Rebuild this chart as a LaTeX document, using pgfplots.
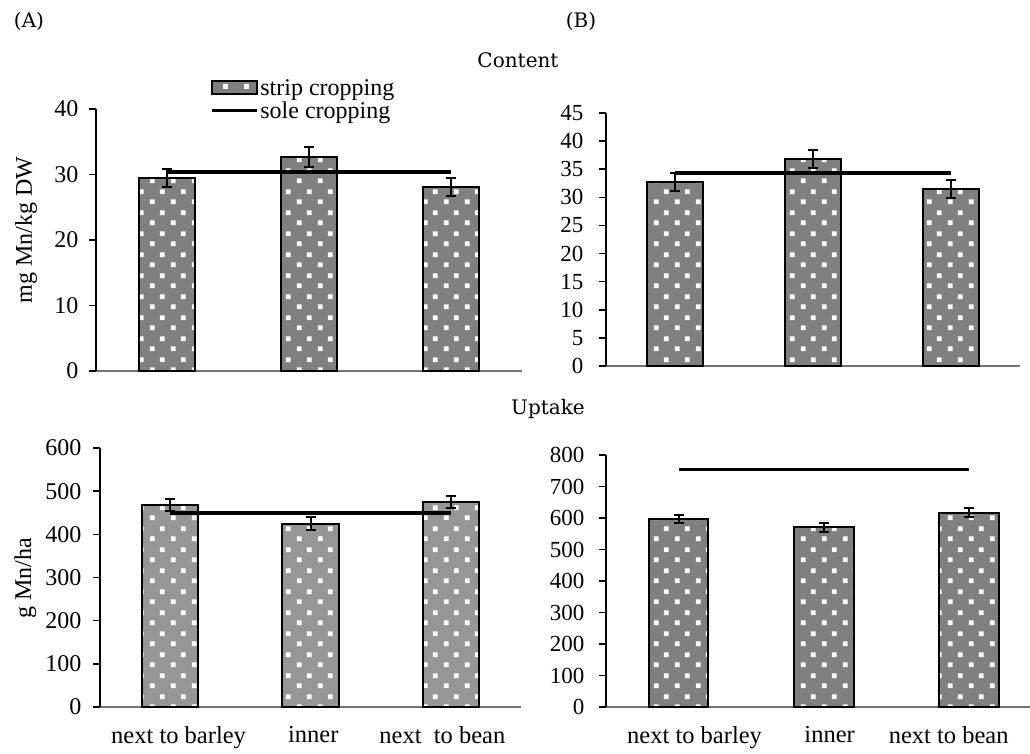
\documentclass[border=0pt]{standalone}
\usepackage{fontspec}
\setmainfont{Liberation Serif}
\newfontfamily\titlefont{DejaVu Serif}
\usepackage{pgfplots}
\pgfplotsset{compat=1.18}
\usetikzlibrary{patterns}
\definecolor{barfill}{RGB}{128,128,128}
\definecolor{barfilllight}{RGB}{150,150,150}
\pgfdeclarepatternformonly{whitesq}{\pgfpointorigin}{\pgfpoint{21pt}{21pt}}{\pgfpoint{21pt}{21pt}}{%
  \pgfpathrectangle{\pgfpoint{3pt}{3pt}}{\pgfpoint{5pt}{5pt}}%
  \pgfpathrectangle{\pgfpoint{13.5pt}{13.5pt}}{\pgfpoint{5pt}{5pt}}%
  \pgfusepath{fill}}
\pgfplotsset{
  panel/.style={scale only axis, anchor=south west, xmin=-0.5, xmax=2.5, ymin=0,
    axis x line*=bottom, axis y line*=left,
    x axis line style={draw=black!55, line width=1.3pt},
    y axis line style={line width=1.5pt},
    ytick pos=left, tick align=outside, major tick length=7pt,
    major y tick style={line width=1.5pt, black},
    xtick=\empty,
    /pgf/number format/assume math mode=true,
    yticklabel style={font=\fontsize{24}{26}\selectfont},
    clip=false},
  ylab/.style 2 args={every axis y label/.style={at={(axis description cs:#1,#2)},
    rotate=90, anchor=center, font=\fontsize{24}{26}\selectfont}},
  bottompanel/.style={
    xticklabel style={font=\fontsize{24.5}{27}\selectfont, yshift=-9pt},
    major x tick style={draw=none}},
  stripbar/.style={ybar, bar width=0.4, draw=black, line width=2pt,
    preaction={fill=barfill}, pattern=whitesq, pattern color=white,
    error bars/y dir=both, error bars/y explicit,
    error bars/error bar style={line width=2pt, black},
    error bars/error mark options={rotate=90, mark size=5pt, line width=2pt, black}},
  soleline/.style={black, line width=3.5pt, no marks},
  stripleg/.style={legend image code/.code={\draw[##1] (0pt,-6pt) rectangle (45pt,7pt);}},
  soleleg/.style={legend image code/.code={\draw[##1] (0pt,0pt) -- (45pt,0pt);}},
}
\begin{document}
\begin{tikzpicture}
\path[use as bounding box] (0pt,0pt) rectangle (1030pt,753pt);

% (A) content
\begin{axis}[panel, at={(96pt,382pt)}, width=426pt, height=262pt,
  ymax=40, ytick={0,10,20,30,40}, ylabel={mg Mn/kg DW}, ylab={-0.164}{0.538},
  yticklabel style={xshift=-7pt},
  legend style={at={(0.268,1.12)}, anchor=north west, draw=none, fill=none,
    font=\fontsize{24}{26}\selectfont, inner sep=0pt, row sep=2pt,
    nodes={inner sep=1.5pt}},
  legend cell align=left]
\addplot[stripbar, stripleg]
  coordinates {(0,29.5) +- (0,1.4) (1,32.7) +- (0,1.5) (2,28.1) +- (0,1.4)};
\addlegendentry{strip cropping}
\addplot[soleline, soleleg]
  coordinates {(0,30.4) (2,30.4)};
\addlegendentry{sole cropping}
\end{axis}

% (B) content
\begin{axis}[panel, at={(606pt,387pt)}, width=414pt, height=253pt,
  ymax=45, ytick={0,5,...,45},
  yticklabel style={font=\fontsize{23}{25}\selectfont, xshift=-12pt}]
\addplot[stripbar] coordinates {(0,32.7) +- (0,1.6) (1,36.8) +- (0,1.6) (2,31.5) +- (0,1.6)};
\addplot[soleline] coordinates {(0,34.3) (2,34.3)};
\end{axis}

% (A) uptake
\begin{axis}[panel, bottompanel, at={(100pt,46pt)}, width=421pt, height=259pt,
  xtick={0.06,1.02,1.94},
  xticklabels={next to barley, inner, next\ \ to bean},
  ymax=600, ytick={0,100,...,600}, ylabel={g Mn/ha}, ylab={-0.177}{0.498},
  yticklabel style={xshift=-8pt}]
\addplot[stripbar, preaction={fill=barfilllight}] coordinates {(0,468) +- (0,15) (1,425) +- (0,16) (2,475) +- (0,14)};
\addplot[soleline] coordinates {(0,450) (2,450)};
\end{axis}

% (B) uptake
\begin{axis}[panel, bottompanel, at={(606pt,46pt)}, width=424pt, height=252pt,
  xtick={0.11,1.04,1.86},
  xticklabels={next to barley, inner, next to bean},
  xmax=2.42, ymax=800, ytick={0,100,...,800},
  yticklabel style={font=\fontsize{23}{25}\selectfont, xshift=-11pt}]
\addplot[stripbar, bar width=0.41] coordinates {(0,596) +- (0,13) (1,571) +- (0,14) (2,617) +- (0,15)};
\addplot[soleline] coordinates {(0,754) (2,754)};
\end{axis}

\node[font=\titlefont\fontsize{20}{22}\selectfont, anchor=base] at (29pt,725pt) {(A)};
\node[font=\titlefont\fontsize{20}{22}\selectfont, anchor=base] at (581pt,725pt) {(B)};
\node[font=\titlefont\fontsize{20}{22}\selectfont, anchor=base] at (518pt,685pt) {Content};
\node[font=\titlefont\fontsize{20}{22}\selectfont, anchor=base] at (548pt,338pt) {Uptake};
\end{tikzpicture}
\end{document}
